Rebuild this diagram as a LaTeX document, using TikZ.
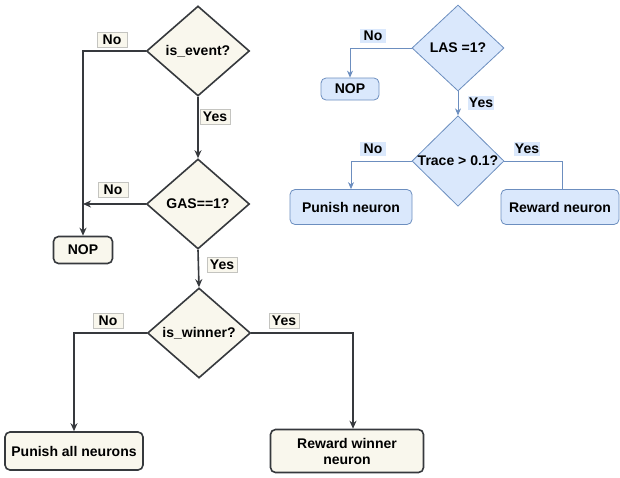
\documentclass[tikz,border=0pt]{standalone}
\usepackage{fontspec}
\setmainfont{Liberation Sans}
\usepackage{tikz}
\usetikzlibrary{shapes.geometric}
\usetikzlibrary{arrows.meta}
\definecolor{creamfill}{HTML}{F9F7ED}
\definecolor{darkline}{HTML}{36393D}
\definecolor{labelgray}{HTML}{C4C4C0}
\definecolor{bluefill}{HTML}{DAE8FC}
\definecolor{blueline}{HTML}{6C8EBF}

\begin{document}
\begin{tikzpicture}[x=1pt, y=-1pt,
  font=\fontsize{14}{16}\selectfont\bfseries,
  decide/.style={diamond, draw=darkline, fill=creamfill, line width=1.6pt, inner sep=0pt, minimum width=103pt, minimum height=90pt},
  action/.style={rectangle, rounded corners=5pt, draw=darkline, fill=creamfill, line width=1.6pt, align=center, inner sep=2pt},
  tag/.style={fill=creamfill, draw=labelgray, line width=0.6pt, inner sep=1pt, minimum width=30pt, minimum height=15pt, font=\fontsize{14}{15}\selectfont\bfseries},
  link/.style={draw=darkline, line width=1.6pt, -{Stealth[length=8pt, width=7pt]}},
  bdecide/.style={diamond, draw=blueline, fill=bluefill, line width=0.8pt, inner sep=0pt, minimum width=92pt, minimum height=86pt},
  baction/.style={rectangle, rounded corners=5pt, draw=blueline, fill=bluefill, line width=0.8pt, align=center, inner sep=2pt},
  btag/.style={fill=bluefill, inner sep=1pt, minimum width=26pt, minimum height=14pt, font=\fontsize{14}{15}\selectfont\bfseries},
  blink/.style={draw=blueline, line width=0.8pt, -{Stealth[length=7pt, width=6pt]}}]

\useasboundingbox (0,0) rectangle (620,477);

% Global flow (left)
\node[decide] (event) at (198,51) {is\_event?};
\node[decide] (gas) at (198,204) {GAS==1?};
\node[decide] (winner) at (199,333) {is\_winner?};
\node[action, minimum width=59pt, minimum height=27pt] (nopA) at (83,250) {NOP};
\node[action, minimum width=138pt, minimum height=38pt] (punall) at (74,451) {Punish all neurons};
\node[action, minimum width=153pt, minimum height=43pt] (rewwin) at (347,451) {Reward winner\\neuron};

\draw[link] (event.west) -| (nopA.north);
\draw[link] (event.south) -- (gas.north);
\draw[link] (gas.west) -- (gas.west -| nopA.north);
\draw[link] (gas.south) -- (winner.north);
\draw[link] (winner.west) -| (punall.north);
\draw[link] (winner.east) -| ([xshift=6pt]rewwin.north);

\node[tag] (noA) at (112,40) {No};
\node[tag] (yesA) at (215,117) {Yes};
\node[tag] (noB) at (113,190) {No};
\node[tag] (yesB) at (222,265) {Yes};
\node[tag] (noC) at (108,321) {No};
\node[tag] (yesC) at (284,321) {Yes};

% Local flow (right)
\node[bdecide] (las) at (458,48) {LAS =1?};
\node[bdecide] (trace) at (458,161) {Trace > 0.1?};
\node[baction, minimum width=58pt, minimum height=22pt] (nopB) at (350,89) {NOP};
\node[baction, minimum width=122pt, minimum height=35pt] (punone) at (351,207) {Punish neuron};
\node[baction, minimum width=118pt, minimum height=35pt] (rewone) at (560,207) {Reward neuron};

\draw[blink] (las.west) -| (nopB.north);
\draw[blink] (las.south) -- (trace.north);
\draw[blink] (trace.west) -| (punone.north);
\draw[draw=blueline, line width=0.8pt] (trace.east) -| ([xshift=2pt]rewone.north);

\node[btag] (noD) at (373,36) {No};
\node[btag] (yesD) at (481,103) {Yes};
\node[btag] (noE) at (373,149) {No};
\node[btag] (yesE) at (527,149) {Yes};

\end{tikzpicture}
\end{document}
